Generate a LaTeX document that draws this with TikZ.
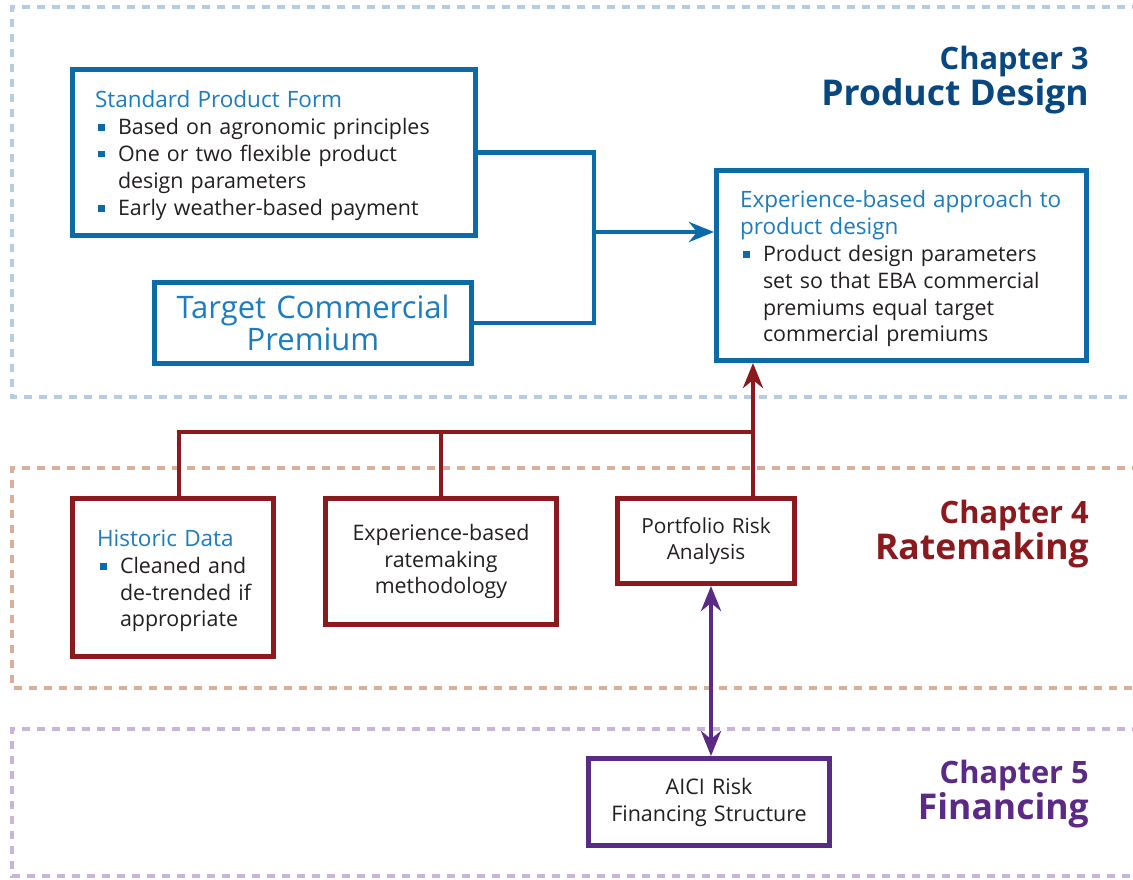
\documentclass[tikz,border=0pt]{standalone}
\usepackage{fontspec}
\setmainfont{Open Sans}
\usetikzlibrary{arrows.meta}
\definecolor{bbord}{HTML}{0B6BA8}
\definecolor{btitle}{HTML}{1C7CC0}
\definecolor{bnavy}{HTML}{08477F}
\definecolor{rbord}{HTML}{8B1A1E}
\definecolor{pbord}{HTML}{5A2A85}
\definecolor{dblue}{HTML}{B5CCE3}
\definecolor{dtan}{HTML}{DBB09B}
\definecolor{dpurp}{HTML}{C8B5D9}
\definecolor{txt}{HTML}{231F20}
\newcommand{\bsq}{\textcolor{bbord}{\rule[4pt]{6.5pt}{6.5pt}}}
\newcommand{\bitem}[1]{\par\noindent\makebox[23pt][l]{\hspace{3pt}\bsq}\begin{tabular}[t]{@{}l@{}}#1\end{tabular}}
\newcommand{\btitle}[1]{\par\noindent{\color{btitle}\fontsize{22.5}{26.5}\selectfont\begin{tabular}[t]{@{}l@{}}#1\end{tabular}}}
\tikzset{
  x=1pt, y=-1pt,
  boxbase/.style={draw, line width=5pt, fill=white, inner sep=0pt, text=txt,
    font=\fontsize{21.4}{26.7}\selectfont},
  bluebox/.style={boxbase, draw=bbord},
  redbox/.style={boxbase, draw=rbord},
  purpbox/.style={boxbase, draw=pbord},
  region/.style={line width=4.5pt, dash pattern=on 8pt off 7pt},
  bline/.style={draw=bbord, line width=4.2pt},
  rline/.style={draw=rbord, line width=4.2pt},
  pline/.style={draw=pbord, line width=4.2pt},
  tiphead/.tip={Stealth[length=25pt,width=20pt,inset=8pt]},
  tip/.style={-tiphead},
  chapsmall/.style={anchor=base east, inner sep=0pt, font=\bfseries\fontsize{30.8}{34}\selectfont},
  chapbig/.style={anchor=base east, inner sep=0pt, font=\bfseries\fontsize{35.5}{40}\selectfont},
}
\begin{document}
\begin{tikzpicture}
\useasboundingbox (0,0) rectangle (1133,879);
\fill[white] (0,0) rectangle (1133,879);
% regions
\draw[region, draw=dblue] (1140,7) -- (12,7) -- (12,397) -- (1140,397);
\draw[region, draw=dtan] (1140,468) -- (12,468) -- (12,688) -- (1140,688);
\draw[region, draw=dpurp] (1140,729) -- (12,729) -- (12,876) -- (1140,876);

% chapter labels
\node[chapsmall, text=bnavy] (c3) at (1089,69) {Chapter 3};
\node[chapbig, text=bnavy] (c3t) at (1089,105) {Product Design};
\node[chapsmall, text=rbord] (c4) at (1089,523) {Chapter 4};
\node[chapbig, text=rbord] (c4t) at (1089,559) {Ratemaking};
\node[chapsmall, text=pbord] (c5) at (1089,783) {Chapter 5};
\node[chapbig, text=pbord] (c5t) at (1089,819) {Financing};

% boxes
\node[bluebox, minimum width=403pt, minimum height=166pt, text width=358pt, align=left] (spf) at (274,152.5) {%
\btitle{Standard Product Form}
\bitem{Based on agronomic principles}
\bitem{One or two flexible product\\design parameters}
\bitem{Early weather-based payment}};

\node[bluebox, minimum width=317pt, minimum height=81pt, text width=310pt, align=center,
  text=btitle, font=\fontsize{31}{32}\selectfont] (tcp) at (313,323) {Target Commercial\\Premium};

\node[bluebox, minimum width=370pt, minimum height=190pt, text width=323pt, align=left] (eba) at (901.5,265.5) {%
\btitle{Experience-based approach to\\product design}
\bitem{Product design parameters\\set so that EBA commercial\\premiums equal target\\commercial premiums}};

\node[redbox, minimum width=201pt, minimum height=158pt, text width=152pt, align=left] (hist) at (173,577.5) {%
\btitle{Historic Data}
\bitem{Cleaned and\\de-trended if\\appropriate}};

\node[redbox, minimum width=231pt, minimum height=126pt, text width=220pt, align=center] (rate) at (441,561.5)
  {Experience-based\\ratemaking\\methodology};

\node[redbox, minimum width=177pt, minimum height=85pt, text width=170pt, align=center,
  font=\fontsize{20.8}{26}\selectfont] (pra) at (706,541) {Portfolio Risk\\Analysis};

\node[purpbox, minimum width=241pt, minimum height=87pt, text width=236pt, align=center,
  font=\fontsize{21.5}{27}\selectfont] (aici) at (709,802) {AICI Risk\\Financing Structure};

% blue connectors
\coordinate (j) at (594,232);
\draw[bline] (spf.east) -| (j) |- (tcp.east);
\draw[bline, tip] (j) -- (eba.west |- j);

% red connectors
\coordinate (hx) at (179,432);
\coordinate (rb) at (753,432);
\draw[rline] (hist.north -| hx) -- (hx) -- (rb);
\draw[rline] (rate.north) -- (rate.north |- rb);
\draw[rline, tip] (pra.north -| rb) -- (eba.south -| rb);

% purple connector
\coordinate (px) at (711,670);
\draw[pline, tiphead-tiphead] (pra.south -| px) -- (aici.north -| px);
\end{tikzpicture}
\end{document}
